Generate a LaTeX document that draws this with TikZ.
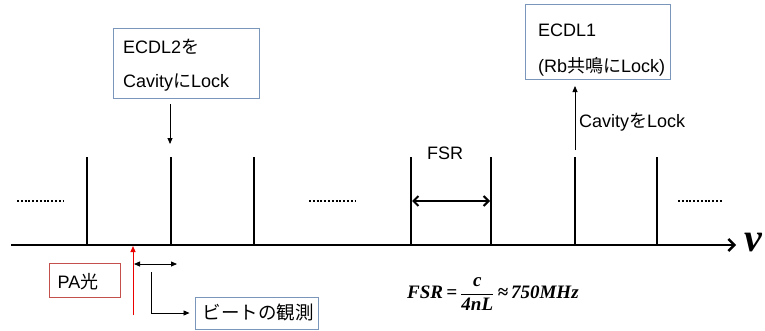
\documentclass[tikz,border=0pt]{standalone}
\usepackage{fontspec}
\setmainfont{Liberation Sans}
\newfontfamily\jp{Noto Sans CJK JP}
\newfontfamily\fserif{Liberation Serif}
\usetikzlibrary{arrows.meta}

\definecolor{boxblue}{RGB}{122,150,186}
\definecolor{boxred}{RGB}{196,80,77}
\definecolor{palight}{RGB}{235,0,0}

\tikzset{
  lab/.style={font=\fontsize{18}{20}\selectfont, inner sep=0pt},
  bluebox/.style={draw=boxblue, line width=0.9pt, inner sep=0pt},
  redbox/.style={draw=boxred, line width=0.9pt, inner sep=0pt},
  peak/.style={line width=2.4pt},
  thinarrow/.style={line width=0.8pt, -{Triangle[length=6pt,width=5pt]}},
  thindouble/.style={line width=0.8pt, {Triangle[length=6pt,width=5pt]}-{Triangle[length=6pt,width=5pt]}},
  dotrow/.style={line width=2pt, dash pattern=on 2pt off 1.8pt},
}

\begin{document}
\begin{tikzpicture}[x=1pt,y=-1pt]
\useasboundingbox (0,0) rectangle (765,330);

% frequency axis
\coordinate (ax0) at (11,245);
\coordinate (ax1) at (736,245);
\draw[line width=2.4pt, -{Straight Barb[length=6pt,width=12pt]}] (ax0) -- (ax1);
\node[font=\fserif\bfseries\itshape\fontsize{40}{40}\selectfont, anchor=west, inner sep=0pt] (nu) at (744,242) {ν};

% cavity resonances
\foreach \i/\x in {1/87,2/171,3/254,4/411,5/491,6/575,7/657}{
  \coordinate (b\i) at (\x,245);
  \coordinate (t\i) at (\x,157);
  \draw[peak] (b\i) -- (t\i);
}

% continuation dots
\coordinate (d1a) at (17,201);  \coordinate (d1b) at (63,201);
\coordinate (d2a) at (309,201); \coordinate (d2b) at (355,201);
\coordinate (d3a) at (678,201); \coordinate (d3b) at (723,201);
\draw[dotrow] (d1a) -- (d1b);
\draw[dotrow] (d2a) -- (d2b);
\draw[dotrow] (d3a) -- (d3b);

% free spectral range
\coordinate (f1) at (412,201);
\coordinate (f2) at (490,201);
\draw[line width=2pt, {Straight Barb[length=5pt,width=10pt]}-{Straight Barb[length=5pt,width=10pt]}] (f1) -- (f2);
\node[lab] (fsrlab) at (445,153) {FSR};

% ECDL2 locked to the cavity
\node[bluebox, minimum width=146pt, minimum height=70pt] (ecdl2) at (186,63) {};
\node[lab, anchor=west] (e2a) at (123,47) {ECDL2{\jp を}};
\node[lab, anchor=west] (e2b) at (123,83) {Cavity{\jp に}Lock};
\coordinate (e2s) at (170,104);
\coordinate (e2e) at (170,144);
\draw[thinarrow] (e2s) -- (e2e);

% ECDL1 locked to Rb resonance
\node[bluebox, minimum width=145pt, minimum height=75pt] (ecdl1) at (597.5,41.5) {};
\node[lab, anchor=west] (e1a) at (538,30) {ECDL1};
\node[lab, anchor=west] (e1b) at (538,67) {(Rb{\jp 共鳴に}Lock)};
\coordinate (e1s) at (575,150);
\coordinate (e1e) at (575,86);
\draw[thinarrow] (e1s) -- (e1e);
\node[lab, anchor=west] (clock) at (579,122) {Cavity{\jp を}Lock};

% PA light
\coordinate (pas) at (133,315);
\coordinate (pae) at (133,246);
\draw[line width=1pt, draw=palight, -{Triangle[length=6pt,width=5pt]}, palight] (pas) -- (pae);
\node[redbox, minimum width=71pt, minimum height=34pt] (pa) at (84.5,280) {};
\node[lab] (patext) at (78,282) {PA{\jp 光}};

% beat note
\coordinate (bt1) at (134,264);
\coordinate (bt2) at (177,264);
\draw[thindouble] (bt1) -- (bt2);
\node[bluebox, minimum width=123pt, minimum height=32pt] (beat) at (256.5,313) {};
\node[lab, font=\jp\fontsize{18.5}{20}\selectfont] (beattext) at (258,312) {ビートの観測};
\coordinate (bel) at (151,272);
\draw[thinarrow, shorten >=5pt] (bel) |- (beat.west);

% FSR formula
\node[anchor=west, inner sep=0pt, font=\fserif\bfseries\itshape\fontsize{19}{22}\selectfont] (formula) at (407,294)
  {FSR\,=\,$\displaystyle\frac{\mbox{c}}{\mbox{4nL}}$\,≈\,750MHz};
\end{tikzpicture}
\end{document}
